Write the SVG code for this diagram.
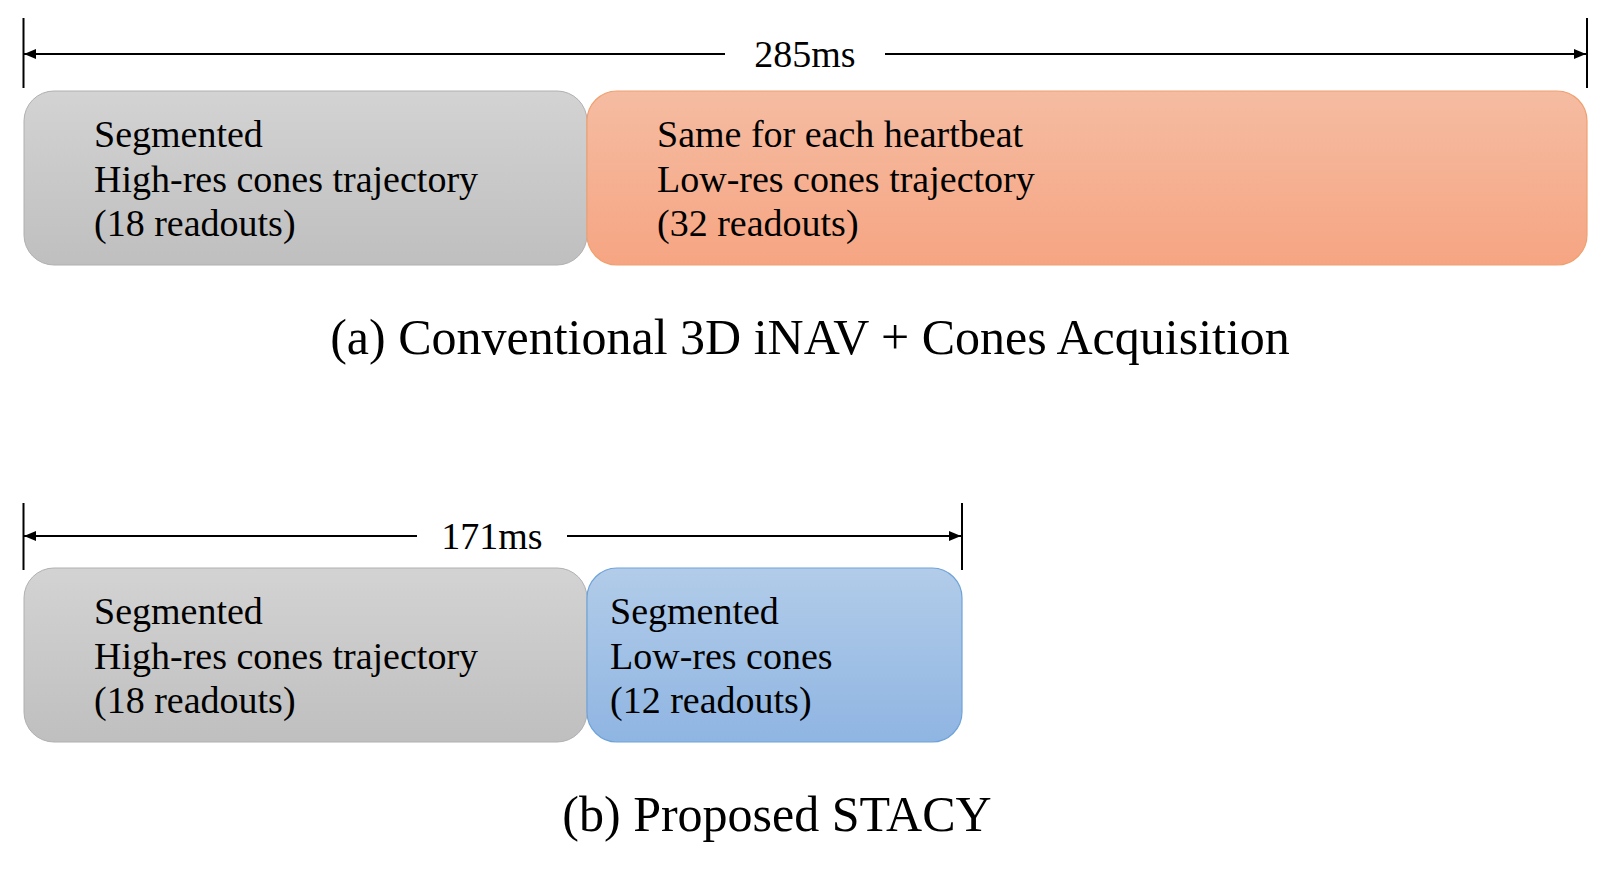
<svg xmlns="http://www.w3.org/2000/svg" width="1620" height="872" viewBox="0 0 1620 872">
<style>
text{font-family:"Liberation Serif","Times New Roman",serif;fill:#000}
.lbl{font-size:38px}
.title{font-size:50px;text-anchor:middle}
.dim{font-size:38px;text-anchor:middle}
.ln{stroke:#000;stroke-width:2;fill:none}
.tick{stroke:#000;stroke-width:2}
</style>
<defs>
<linearGradient id="gGray" x1="0" y1="0" x2="0" y2="1"><stop offset="0" stop-color="#d3d3d3"/><stop offset="1" stop-color="#bfbfbf"/></linearGradient>
<linearGradient id="gOrange" x1="0" y1="0" x2="0" y2="1"><stop offset="0" stop-color="#f5bca2"/><stop offset="1" stop-color="#f6a582"/></linearGradient>
<linearGradient id="gBlue" x1="0" y1="0" x2="0" y2="1"><stop offset="0" stop-color="#b2cce9"/><stop offset="1" stop-color="#8fb5e2"/></linearGradient>
<marker id="ah" markerWidth="12" markerHeight="10" refX="12" refY="5" orient="auto-start-reverse" markerUnits="userSpaceOnUse"><path d="M0,0 L12,5 L0,10 Z" fill="#000"/></marker>
</defs>

<g id="connectors">
<line class="tick" x1="23.5" y1="18" x2="23.5" y2="88"/>
<line class="tick" x1="1587" y1="18" x2="1587" y2="88"/>
<line class="ln" x1="24" y1="54" x2="725" y2="54" marker-start="url(#ah)"/>
<line class="ln" x1="885" y1="54" x2="1586" y2="54" marker-end="url(#ah)"/>
<text class="dim" x="805" y="67">285ms</text>

<line class="tick" x1="23.5" y1="503" x2="23.5" y2="570"/>
<line class="tick" x1="962" y1="503" x2="962" y2="570"/>
<line class="ln" x1="24" y1="536" x2="417" y2="536" marker-start="url(#ah)"/>
<line class="ln" x1="567" y1="536" x2="961" y2="536" marker-end="url(#ah)"/>
<text class="dim" x="492" y="549">171ms</text>
</g>

<g id="a-high">
<rect x="24" y="91" width="563" height="174" rx="30" fill="url(#gGray)" stroke="#b0b0b0" stroke-width="1"/>
<text class="lbl" x="94" y="147">Segmented</text>
<text class="lbl" x="94" y="192">High-res cones trajectory</text>
<text class="lbl" x="94" y="236">(18 readouts)</text>
</g>
<g id="a-low">
<rect x="587" y="91" width="1000" height="174" rx="30" fill="url(#gOrange)" stroke="#f0a070" stroke-width="1.2"/>
<text class="lbl" x="657" y="147">Same for each heartbeat</text>
<text class="lbl" x="657" y="192">Low-res cones trajectory</text>
<text class="lbl" x="657" y="236">(32 readouts)</text>
</g>
<g id="a-title">
<text class="title" x="810" y="354">(a) Conventional 3D iNAV + Cones Acquisition</text>
</g>

<g id="b-high">
<rect x="24" y="568" width="563" height="174" rx="30" fill="url(#gGray)" stroke="#b0b0b0" stroke-width="1"/>
<text class="lbl" x="94" y="624">Segmented</text>
<text class="lbl" x="94" y="669">High-res cones trajectory</text>
<text class="lbl" x="94" y="713">(18 readouts)</text>
</g>
<g id="b-low">
<rect x="587" y="568" width="375" height="174" rx="30" fill="url(#gBlue)" stroke="#6fa3d8" stroke-width="1.2"/>
<text class="lbl" x="610" y="624">Segmented</text>
<text class="lbl" x="610" y="669">Low-res cones</text>
<text class="lbl" x="610" y="713">(12 readouts)</text>
</g>
<g id="b-title">
<text class="title" x="777" y="831">(b) Proposed STACY</text>
</g>
</svg>
